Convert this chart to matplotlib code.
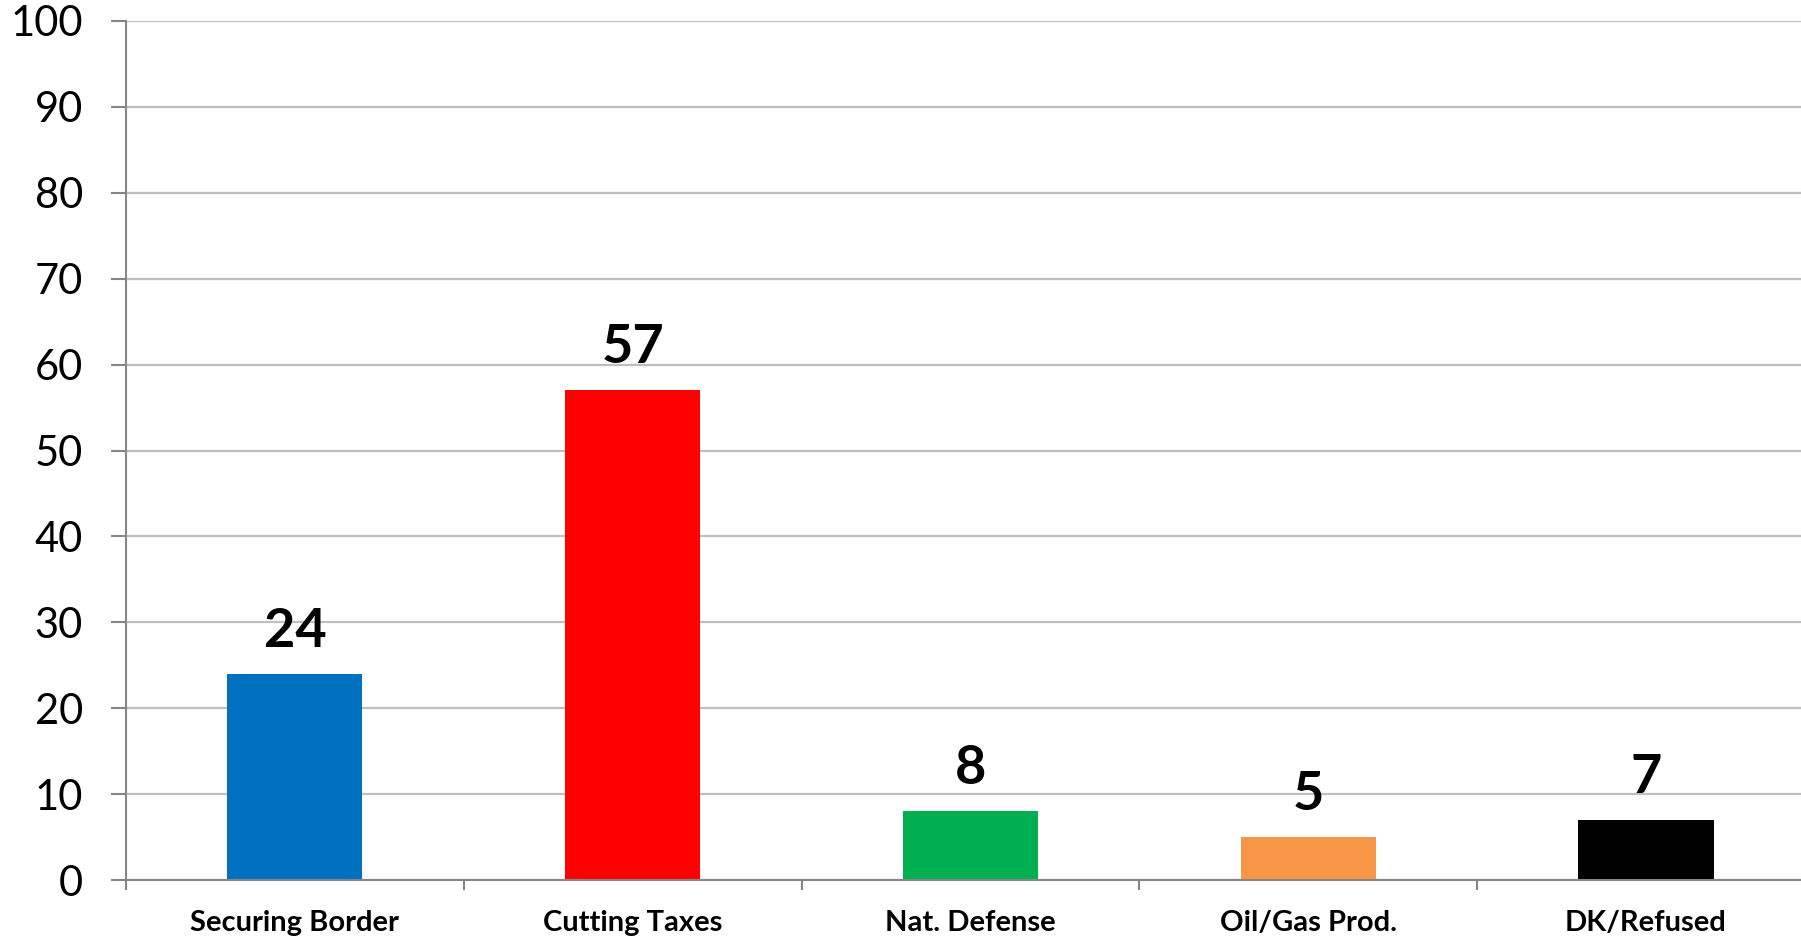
import matplotlib
matplotlib.use("Agg")
import matplotlib.pyplot as plt
from matplotlib.ticker import FixedLocator

categories = ["Securing Border", "Cutting Taxes", "Nat. Defense", "Oil/Gas Prod.", "DK/Refused"]
values = [24, 57, 8, 5, 7]
colors = ["#0070C0", "#FF0000", "#00B050", "#F79646", "#000000"]
yticks = [0, 10, 20, 30, 40, 50, 60, 70, 80, 90, 100]

plt.rcParams['font.family'] = ['Lato', 'DejaVu Sans']

W, H = 1801, 936
fig = plt.figure(figsize=(W / 100, H / 100), dpi=100)
left, right = 126 / W, 1.0
bottom, top = (H - 880) / H, (H - 21) / H
ax = fig.add_axes([left, bottom, right - left, top - bottom])

x = list(range(len(categories)))
bars = ax.bar(x, values, width=0.4, color=colors, zorder=3)

ax.set_ylim(0, 100)
ax.set_xlim(-0.5, 4.459)
ax.set_yticks(yticks)
ax.set_yticklabels([str(v) for v in yticks])
ax.yaxis.grid(True, color="#BFBFBF", linewidth=1.6, zorder=0)
ax.xaxis.grid(False)

ax.set_xticks(x)
ax.set_xticklabels(categories, fontsize=21, fontweight='bold')
ax.tick_params(axis='x', length=0, pad=21.5)
ax.xaxis.set_minor_locator(FixedLocator([i - 0.5 for i in range(len(categories) + 1)]))
ax.tick_params(axis='x', which='minor', length=7, width=1.5, color="#868686", direction='out')
ax.tick_params(axis='y', labelsize=30, length=11, width=1.5, color="#868686", pad=20)

for s in ['top', 'right']:
    ax.spines[s].set_visible(False)
for s in ['left', 'bottom']:
    ax.spines[s].set_color("#868686")
    ax.spines[s].set_linewidth(1.5)
ax.spines['bottom'].set_zorder(4)

for b, v in zip(bars, values):
    ax.annotate(str(v), (b.get_x() + b.get_width() / 2, v), xytext=(0, 13),
                textcoords='offset points', ha='center', va='bottom',
                fontsize=39, fontweight='bold', color='black')

fig.savefig("out.png", dpi=100, facecolor='white')
